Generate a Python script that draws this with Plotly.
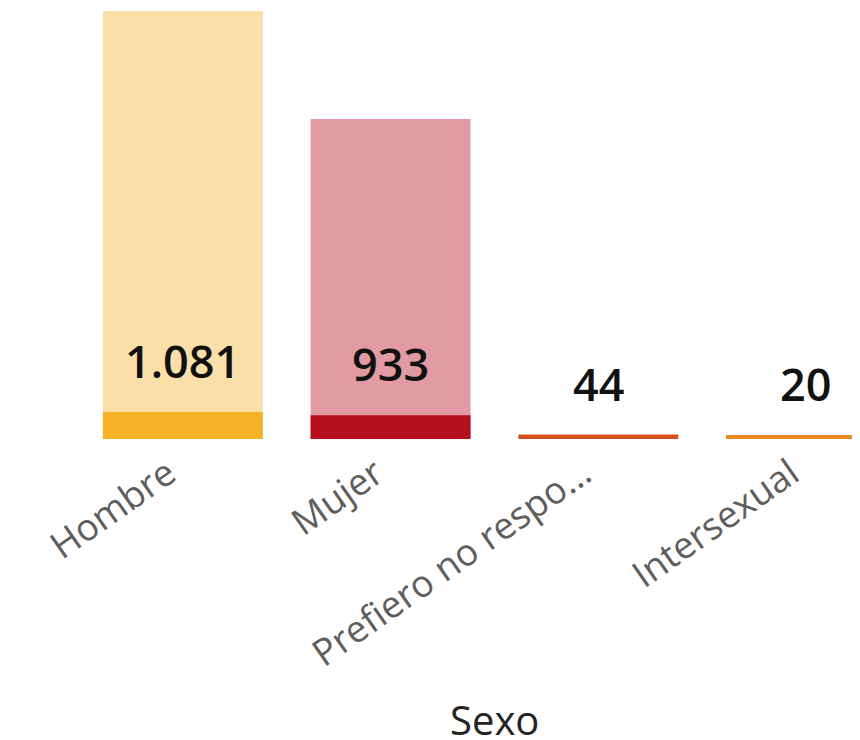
import plotly.graph_objects as go

# data
categories = ["Hombre", "Mujer", "Prefiero no respo…", "Intersexual"]
counts = [1081, 933, 44, 20]

light_colors = ["#FADFA8", "#E29BA3", "#F2B49A", "#F8D1A3"]
dark_colors = ["#F6B327", "#B50E1E", "#D5521F", "#EA8A1F"]

FONT = "Open Sans"
Y_MIN = 494        # lower bound of the main axis (bars are cut off there)
Y2_MAX = 19700     # scale of the dark foot strip
BAR_W = 0.77
STROKE = 7         # px outline of the foot strip (gives the thin lines a body)
PX_PER_CAT = 207.7


def fmt(v):
    return f"{v:,}".replace(",", ".")


fig = go.Figure()

fig.add_trace(go.Bar(
    x=categories, y=counts,
    marker=dict(color=light_colors, line=dict(width=0)),
    width=BAR_W, yaxis="y", hoverinfo="skip",
))

# foot strip, narrowed so the outline stays inside the light bar
fig.add_trace(go.Bar(
    x=categories, y=counts,
    marker=dict(color=dark_colors, line=dict(color=dark_colors, width=STROKE)),
    width=BAR_W - STROKE / PX_PER_CAT, yaxis="y2", hoverinfo="skip",
))

annotations = []
for cat, v in zip(categories, counts):
    annotations.append(dict(
        x=cat, y=v, xref="x", yref="y2",
        text=fmt(v), showarrow=False,
        yanchor="middle", yshift=55,
        font=dict(family=FONT, size=45, color="#111111", weight=600),
    ))

# axis title, centred on the full category band
annotations.append(dict(
    x=(len(categories) - 1) / 2, y=-0.655, xref="x", yref="paper",
    text="Sexo", showarrow=False, yanchor="middle",
    font=dict(family=FONT, size=40, color="#252423"),
))

# page body has an 8px margin, so the figure is 8px smaller each way
fig.update_layout(
    width=852, height=732,
    margin=dict(l=71, r=0, t=3, b=301, autoexpand=False),
    paper_bgcolor="white", plot_bgcolor="white",
    barmode="overlay", showlegend=False,
    xaxis=dict(
        range=[-0.5, 3.26], showgrid=False, zeroline=False, showline=False,
        automargin=False,
        tickangle=-35, ticks="", ticklabelshift=-15, ticklabelstandoff=5,
        tickfont=dict(family=FONT, size=37, color="#605E5C"),
    ),
    yaxis=dict(range=[Y_MIN, max(counts)], visible=False, fixedrange=True,
               automargin=False),
    yaxis2=dict(range=[0, Y2_MAX], visible=False, overlaying="y",
                automargin=False),
    annotations=annotations,
)

fig.write_html("out.html")
